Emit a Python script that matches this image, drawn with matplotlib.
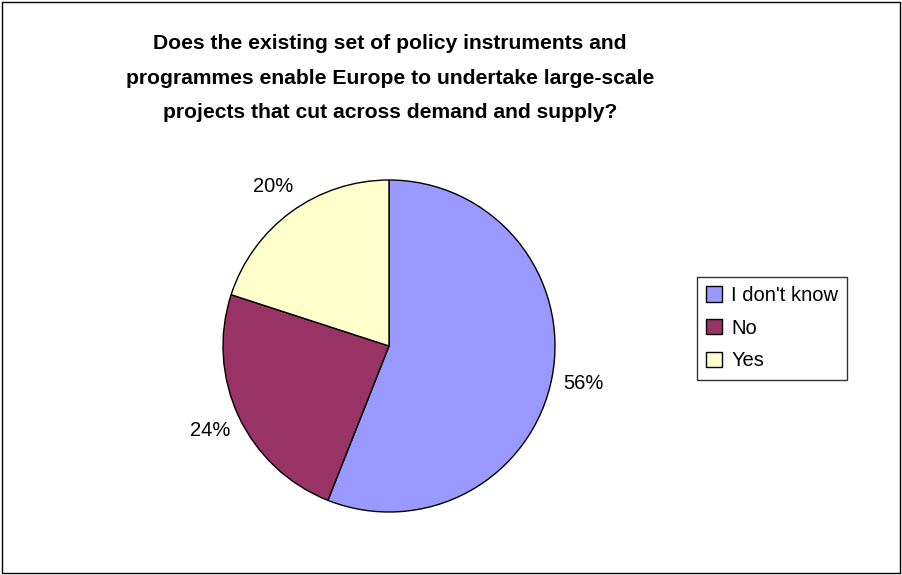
import matplotlib.pyplot as plt
from matplotlib.patches import Rectangle

plt.rcParams['font.family'] = ['Liberation Sans', 'DejaVu Sans']

categories = ["I don't know", "No", "Yes"]
shares = [56, 24, 20]
colors = ["#9999FF", "#993366", "#FFFFCC"]
title = ("Does the existing set of policy instruments and\n"
         "programmes enable Europe to undertake large-scale\n"
         "projects that cut across demand and supply?")

W, H = 903, 575
fig = plt.figure(figsize=(W / 100, H / 100), dpi=100)

# outer chart frame
fig.patches.append(Rectangle((2 / W, 2 / H), 898 / W, 571 / H, transform=fig.transFigure,
                             fill=False, edgecolor="black", linewidth=1.0))

cx, cy, r = 389, 346, 166
ax = fig.add_axes([(cx - r) / W, (H - cy - r) / H, 2 * r / W, 2 * r / H])
wedges, texts, autotexts = ax.pie(
    shares, colors=colors, startangle=90, counterclock=False,
    autopct=lambda p: f"{p:.0f}%", pctdistance=1.19,
    wedgeprops=dict(edgecolor="black", linewidth=1.0),
    textprops=dict(fontsize=14.5, color="black"))
ax.set_xlim(-1, 1)
ax.set_ylim(-1, 1)
ax.set_aspect("equal")
ax.axis("off")

fig.text(390 / W, 1 - 78 / H, title, ha="center", va="center",
         fontsize=15.2, fontweight="bold", linespacing=2.02)

leg = fig.legend(wedges, categories, loc="upper left",
                 bbox_to_anchor=(697 / W, 1 - 277 / H), fontsize=14.5,
                 frameon=True, fancybox=False, edgecolor="black",
                 handlelength=0.8, handleheight=0.8, handletextpad=0.45,
                 labelspacing=0.68, borderpad=0.45, borderaxespad=0)
leg.get_frame().set_linewidth(1.0)

fig.savefig("out.png", dpi=100)
